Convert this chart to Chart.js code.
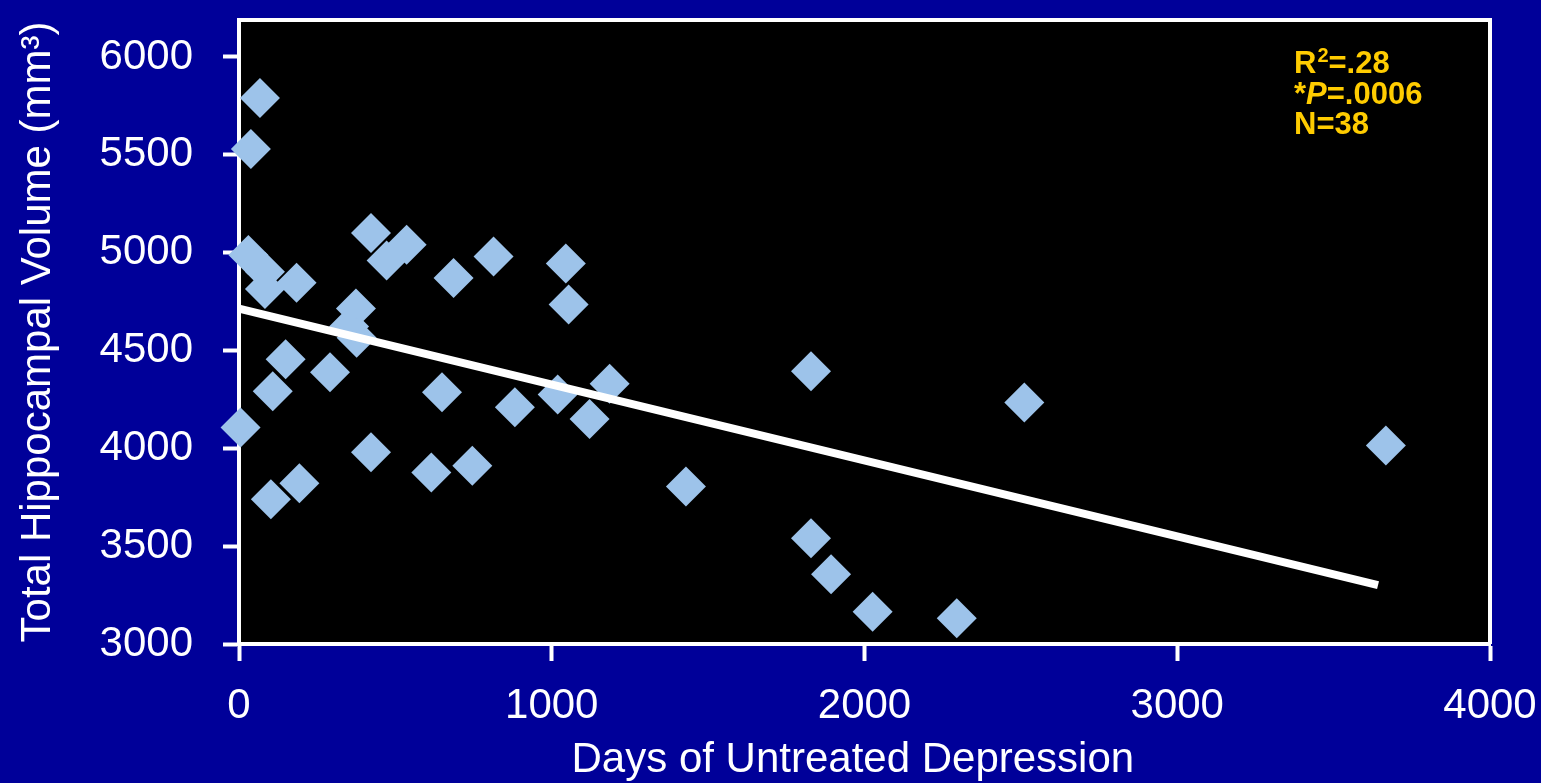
<!DOCTYPE html>
<html lang="en">
<head>
    <meta charset="UTF-8">
    <title>Hippocampal Volume vs Days of Untreated Depression</title>
    <script src="https://cdn.jsdelivr.net/npm/chart.js"></script>
    <style>
        html, body { margin: 0; padding: 0; background: #000099; }
        #wrap { width: 1541px; height: 783px; }
    </style>
</head>
<body>
<div id="wrap"><canvas id="myChart"></canvas></div>

<script>
    // days of untreated depression (x) and total hippocampal volume in mm3 (y)
    const daysUntreated = [67, 38, 30, 83, 83, 184, 422, 536, 472, 686, 814, 1045, 1054, 374, 352, 376,
        149, 108, 291, 5, 649, 882, 1019, 1185, 1121, 422, 615, 746, 193, 102, 1429,
        1829, 2511, 3667, 1829, 1893, 2026, 2295];
    const hippoVolume = [5790, 5530, 4988, 4903, 4814, 4846, 5100, 5040, 4960, 4870, 4980, 4945, 4735, 4715, 4622, 4565,
        4455, 4292, 4389, 4107, 4287, 4210, 4275, 4330, 4150, 3980, 3877, 3911, 3822, 3740, 3805,
        4394, 4234, 4014, 3540, 3356, 3165, 3131];

    // regression line end points
    const fitDays = [0, 3642];
    const fitVolume = [4714, 3301];

    const xTicks = [0, 1000, 2000, 3000, 4000];
    const yTicks = [3000, 3500, 4000, 4500, 5000, 5500, 6000];

    const statLines = ['R2=.28', '*P=.0006', 'N=38'];

    const pts = daysUntreated.map((d, i) => ({x: d, y: hippoVolume[i]}));
    const fit = fitDays.map((d, i) => ({x: d, y: fitVolume[i]}));

    // black plot box with white frame on top and right
    const plotBox = {
        id: 'plotBox',
        beforeDraw(chart) {
            const {ctx, chartArea: a} = chart;
            ctx.save();
            ctx.fillStyle = '#000000';
            ctx.fillRect(a.left, a.top, a.right - a.left, a.bottom - a.top);
            ctx.restore();
        },
        beforeDatasetsDraw(chart) {
            const {ctx, chartArea: a} = chart;
            ctx.save();
            ctx.strokeStyle = '#ffffff';
            ctx.lineWidth = 4;
            ctx.beginPath();
            ctx.moveTo(a.left, a.top);
            ctx.lineTo(a.right, a.top);
            ctx.lineTo(a.right, a.bottom);
            ctx.stroke();
            ctx.restore();
        }
    };

    // stats text in the top right corner
    const statsText = {
        id: 'statsText',
        afterDraw(chart) {
            const {ctx} = chart;
            const x0 = 1294;
            ctx.save();
            ctx.fillStyle = '#ffcc00';
            ctx.textBaseline = 'alphabetic';
            ctx.textAlign = 'left';
            const big = 'bold 31px "Liberation Sans", Arial, sans-serif';
            const small = 'bold 20px "Liberation Sans", Arial, sans-serif';
            const ital = 'italic bold 31px "Liberation Sans", Arial, sans-serif';
            // R2=.28 with superscript
            ctx.font = big;
            ctx.fillText('R', x0, 73);
            let x = x0 + ctx.measureText('R').width + 1;
            ctx.font = small;
            ctx.fillText('2', x, 62);
            x += ctx.measureText('2').width;
            ctx.font = big;
            ctx.fillText(statLines[0].slice(2), x, 73);
            // *P=.0006 with italic P
            ctx.fillText('*', x0, 104);
            x = x0 + ctx.measureText('*').width;
            ctx.font = ital;
            ctx.fillText('P', x, 104);
            x += ctx.measureText('P').width;
            ctx.font = big;
            ctx.fillText(statLines[1].slice(2), x, 104);
            // N=38
            ctx.fillText(statLines[2], x0, 134);
            ctx.restore();
        }
    };

    const fontFam = '"Liberation Sans", Arial, sans-serif';

    // keep the plot box where the reference has it
    const noPad = (scale) => {
        scale.paddingTop = 0;
        scale.paddingBottom = 0;
        scale.paddingLeft = 0;
        scale.paddingRight = 0;
    };

    new Chart(document.getElementById('myChart').getContext('2d'), {
        type: 'scatter',
        data: {
            datasets: [
                {
                    type: 'line',
                    data: fit,
                    borderColor: '#ffffff',
                    borderWidth: 8,
                    pointRadius: 0,
                    fill: false,
                    clip: false
                },
                {
                    data: pts,
                    pointStyle: 'rectRot',
                    pointRadius: 20,
                    pointHoverRadius: 20,
                    backgroundColor: '#9dc3ea',
                    borderColor: '#9dc3ea',
                    borderWidth: 0,
                    clip: false
                }
            ]
        },
        options: {
            responsive: true,
            maintainAspectRatio: false,
            animation: false,
            events: [],
            layout: { padding: { top: 20, right: 51, left: 0, bottom: 0 } },
            plugins: {
                legend: { display: false },
                tooltip: { enabled: false }
            },
            scales: {
                x: {
                    type: 'linear',
                    min: 0,
                    max: 4000,
                    afterFit(scale) { scale.height = 139; noPad(scale); },
                    afterBuildTicks(scale) { scale.ticks = xTicks.map(v => ({value: v})); },
                    border: { color: '#ffffff', width: 4 },
                    grid: { drawOnChartArea: false, drawTicks: true, tickLength: 17, tickColor: '#ffffff', tickWidth: 4 },
                    ticks: {
                        color: '#ffffff', font: { family: fontFam, size: 42 }, padding: 20, maxRotation: 0,
                        callback: (v) => String(v)
                    },
                    title: {
                        display: true,
                        // trailing spaces nudge the centred title a bit left, as in the original
                        text: 'Days of Untreated Depression  ',
                        color: '#ffffff',
                        font: { family: fontFam, size: 42 },
                        padding: { top: 0, bottom: -3 }
                    }
                },
                y: {
                    type: 'linear',
                    min: 3000,
                    max: 6189,
                    afterFit(scale) { scale.width = 239; noPad(scale); },
                    afterBuildTicks(scale) { scale.ticks = yTicks.map(v => ({value: v})); },
                    border: { color: '#ffffff', width: 4 },
                    grid: { drawOnChartArea: false, drawTicks: true, tickLength: 16, tickColor: '#ffffff', tickWidth: 4 },
                    ticks: {
                        color: '#ffffff', font: { family: fontFam, size: 42 }, padding: 30,
                        callback: (v) => String(v)
                    },
                    title: {
                        display: true,
                        text: 'Total Hippocampal Volume (mm³)',
                        color: '#ffffff',
                        font: { family: fontFam, size: 42 },
                        padding: { top: 13, bottom: 0 }
                    }
                }
            }
        },
        plugins: [plotBox, statsText]
    });
</script>
</body>
</html>
